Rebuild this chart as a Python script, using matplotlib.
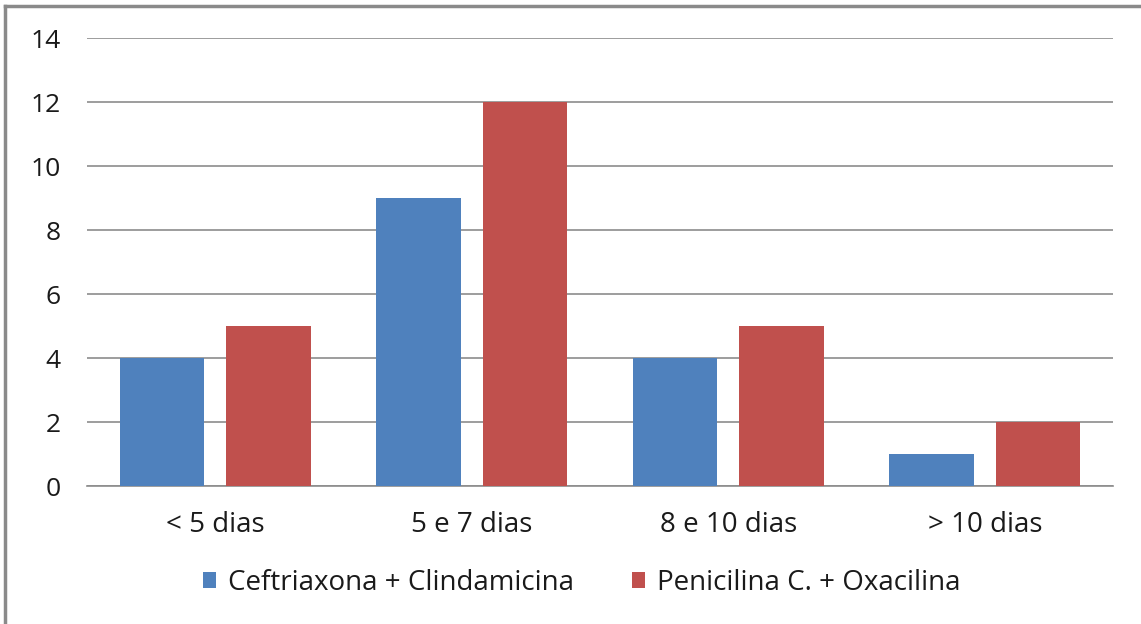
import matplotlib
matplotlib.use("Agg")
import matplotlib.pyplot as plt
import numpy as np
from matplotlib.lines import Line2D

categories = ["< 5 dias", "5 e 7 dias", "8 e 10 dias", "> 10 dias"]
series_names = ["Ceftriaxona + Clindamicina", "Penicilina C. + Oxacilina"]
ceftriaxona = [4, 9, 4, 1]
penicilina = [5, 12, 5, 2]
yticks = [0, 2, 4, 6, 8, 10, 12, 14]

plt.rcParams['font.family'] = ['Open Sans', 'DejaVu Sans']

fig = plt.figure(figsize=(11.41, 6.24), dpi=100)
ax = fig.add_axes([87/1141, 1-486/624, (1113-87)/1141, (486-38)/624])

x = np.arange(len(categories))
w = 0.33
off = 0.207
ax.bar(x - off, ceftriaxona, w, color="#4F81BD", label=series_names[0], zorder=3)
ax.bar(x + off, penicilina, w, color="#C0504D", label=series_names[1], zorder=3)

ax.set_xlim(-0.5, 3.5)
ax.set_ylim(0, 14)
ax.set_yticks(yticks)
ax.set_yticklabels([str(t) for t in yticks])
ax.set_xticks(x)
ax.set_xticklabels(categories)
ax.yaxis.grid(True, color="#8C8C8C", linewidth=1.2, zorder=0)
for s in ["top", "right", "left"]:
    ax.spines[s].set_visible(False)
ax.spines["bottom"].set_color("#8C8C8C")
ax.spines["bottom"].set_linewidth(1.2)
ax.tick_params(axis='y', length=0, pad=19, labelsize=19, labelcolor="#1a1a1a")
ax.tick_params(axis='x', length=0, pad=18, labelsize=20, labelcolor="#1a1a1a")

leg = fig.legend(loc='center', bbox_to_anchor=(582/1141, 1-583/624), ncol=2, frameon=False,
                 fontsize=20, handlelength=0.47, handleheight=0.47, handletextpad=0.43, columnspacing=2.1)
for t in leg.get_texts():
    t.set_color("#1a1a1a")

# frame border lines (top and left)
fig.add_artist(Line2D([5/1141, 1], [1-6/624, 1-6/624], color="#8A8A8A", linewidth=2.5, transform=fig.transFigure))
fig.add_artist(Line2D([5/1141, 5/1141], [0, 1-6/624], color="#8A8A8A", linewidth=2.5, transform=fig.transFigure))

fig.savefig("out.png", dpi=100, facecolor="white")
